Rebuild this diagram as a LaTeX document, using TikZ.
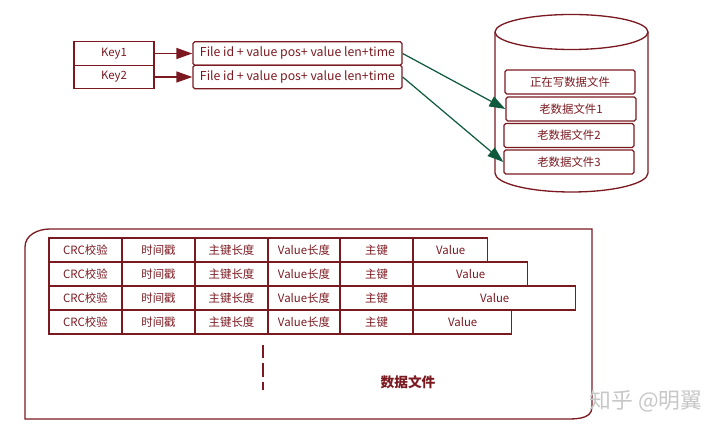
\documentclass[tikz,border=0pt]{standalone}
\usepackage{fontspec}
\setmainfont{Noto Sans CJK SC}
\usetikzlibrary{arrows.meta}
\definecolor{inkred}{HTML}{7A1A20}
\definecolor{inkgreen}{HTML}{0F5A3C}
\begin{document}
\begin{tikzpicture}
	[%
	sketch/.style={draw=inkred,	text=inkred,	line width=0.75pt,	inner sep=0pt,	font=\fontsize{6.5}{8}\selectfont},%
	keybox/.style ={rectangle,	sketch,	minimum width=1.6cm,	minimum height=0.47cm},%
	filebox/.style={rectangle,	sketch,	rounded corners=1pt,	font=\fontsize{7}{8}\selectfont,	minimum width=4.18cm,	minimum height=0.47cm},%
	oldbox/.style ={rectangle,	sketch,	rounded corners=1pt,	minimum width=2.6cm,	minimum height=0.48cm},%
	cellbox/.style={rectangle,	sketch,	minimum width=1.46cm,	minimum height=0.48cm},%
	valuebox/.style={rectangle,	sketch,	anchor=west,	minimum height=0.48cm},%
	redarrow/.style={draw=inkred,	line width=0.8pt,	-{Triangle[length=3.2mm,width=2.2mm]}},%
	greenarrow/.style={draw=inkgreen,	line width=0.7pt,	-{Triangle[length=3.2mm,width=2.2mm]}},%
	]

	\useasboundingbox (0,0) rectangle (14.4,8.66);

	% keys
	\node (key1) at (2.28,7.59) [keybox] {Key1};
	\node (key2) at (2.28,7.12) [keybox] {Key2};

	% index entries
	\node (file1) at (5.95,7.59) [filebox] {File id + value pos+ value len+time};
	\node (file2) at (5.95,7.12) [filebox] {File id + value pos+ value len+time};

	% disk
	\draw [draw=inkred, line width=0.75pt] (11.43,8.02) ellipse (1.53 and 0.35);
	\draw [draw=inkred, line width=0.75pt] (9.90,8.02) -- (9.90,5.20) arc [start angle=180, end angle=360, x radius=1.53, y radius=0.38] -- (12.96,8.02);

	\node (active) at (11.40,7.02) [oldbox] {正在写数据文件};
	\node (old1) at (11.42,6.48) [oldbox] {老数据文件1};
	\node (old2) at (11.38,5.95) [oldbox] {老数据文件2};
	\node (old3) at (11.38,5.42) [oldbox] {老数据文件3};

	% interconnections
	\draw [redarrow] (key1) to (file1);
	\draw [redarrow] (key2) to (file2);
	\draw [greenarrow] (file1.east) to (old1.west);
	\draw [greenarrow] (file2.east) to (old3.west);

	% data file frame
	\draw [draw=inkred, line width=0.75pt] (0.5,0.28) -- (0.5,3.72) to [out=90,in=180] (1.0,4.08) -- (11.84,4.08) -- (11.84,0.52) to [out=-90,in=0] (11.2,0.28) -- cycle;

	% records
	\foreach \i/\y/\w in {0/3.66/1.48, 1/3.18/2.28, 2/2.70/3.24, 3/2.22/1.96}
	{
		\node (crc\i)  at (1.71,\y) [cellbox] {CRC校验};
		\node (time\i) at (3.17,\y) [cellbox] {时间戳};
		\node (klen\i) at (4.63,\y) [cellbox] {主键长度};
		\node (vlen\i) at (6.08,\y) [cellbox] {Value长度};
		\node (pkey\i) at (7.53,\y) [cellbox] {主键};
		\node (value\i) at (8.26,\y) [valuebox, minimum width=\w cm] {Value};
	}

	% more records
	\coordinate (dash0) at (5.26,1.76);
	\coordinate (dash1) at (5.26,0.86);
	\draw [draw=inkred, line width=0.75pt, dash pattern=on 0.27cm off 0.1cm] (dash0) -- (dash1);

	\node (datafile) at (8.16,1.02) [text=inkred, font=\fontsize{7.8}{9}\selectfont\bfseries] {数据文件};
	\node (mark) at (12.92,0.64) [text=black!22, font=\fontsize{12.4}{14}\selectfont] {知乎 @明翼};

\end{tikzpicture}
\end{document}
